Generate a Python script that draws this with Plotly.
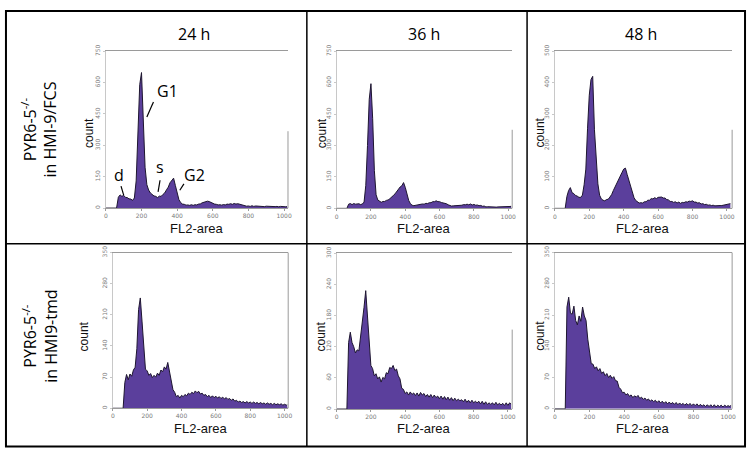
import plotly.graph_objects as go

# ---------------- data ----------------
channels = list(range(0, 1030, 10))  # FL2-area channel bins

fcs_24h = [0, 0, 0, 0, 0, 0, 0,
           52, 63, 56, 61, 51, 50, 44, 43, 37, 48,
           130, 385, 590, 648, 410, 195, 112, 86, 72,
           65, 58, 56, 50, 57, 56, 65, 72, 87, 100,
           121, 131, 143, 108, 68, 40, 26, 19, 18, 14,
           15, 13, 16, 13, 16, 15, 19, 20, 25, 27,
           32, 33, 31, 26, 23, 19, 18, 15, 16, 14,
           17, 15, 19, 18, 21, 18, 22, 19, 21, 18,
           17, 13, 11, 9, 10, 8, 11, 8, 10, 9,
           10, 8, 9, 7, 9, 8, 9, 6, 8, 7,
           8, 6, 8, 7, 8, 6, 8]

fcs_36h = [0, 0, 0, 0, 0, 0, 0,
           20, 23, 18, 23, 20, 21, 22, 18, 21, 30,
           110, 300, 520, 595, 430, 180, 65, 40, 33,
           29, 33, 33, 38, 40, 46, 52, 61, 69, 81,
           90, 102, 108, 123, 100, 65, 38, 22, 15, 13,
           15, 15, 18, 18, 21, 20, 24, 23, 27, 27,
           32, 32, 36, 32, 32, 28, 27, 23, 22, 17,
           14, 11, 12, 12, 15, 14, 15, 15, 18, 17,
           20, 17, 21, 16, 19, 15, 16, 13, 14, 10,
           11, 7, 8, 7, 7, 6, 7, 6, 7, 7,
           7, 6, 9, 8, 9, 9, 10]

fcs_48h = [0, 0, 0, 0, 0, 0, 0,
           38, 57, 66, 50, 47, 41, 39, 35, 35, 42,
           75, 125, 255, 360, 410, 420, 250, 140, 78,
           42, 30, 26, 24, 28, 29, 36, 44, 57, 69,
           83, 93, 105, 114, 125, 128, 108, 88, 67, 48,
           34, 25, 20, 17, 18, 17, 21, 21, 26, 26,
           31, 30, 34, 31, 35, 35, 36, 33, 33, 28,
           27, 22, 22, 19, 21, 17, 20, 16, 19, 18,
           21, 20, 23, 22, 24, 20, 20, 17, 18, 14,
           15, 12, 13, 10, 11, 9, 10, 8, 9, 8,
           9, 9, 10, 10, 11, 12, 15]

tmd_24h = [0, 0, 0, 0, 0, 0, 0,
           58, 76, 64, 77, 72, 86, 92, 134, 222, 248,
           196, 134, 88, 84, 74, 78, 69, 74, 70,
           79, 74, 86, 82, 93, 88, 103, 80, 66, 42,
           36, 26, 29, 23, 29, 26, 31, 28, 34, 31,
           36, 33, 39, 35, 38, 32, 34, 29, 31, 26,
           29, 24, 28, 24, 27, 23, 26, 22, 25, 21,
           24, 20, 22, 18, 21, 16, 18, 14, 16, 13,
           15, 12, 15, 12, 14, 11, 14, 11, 13, 10,
           13, 10, 12, 9, 12, 9, 11, 8, 11, 8,
           10, 8, 10, 7, 9, 7, 9]

tmd_36h = [0, 0, 0, 0, 0, 0, 0,
           128, 148, 128, 120, 108, 114, 112, 140, 156, 196,
           228, 176, 122, 84, 78, 64, 68, 58, 62,
           52, 61, 58, 70, 68, 80, 78, 84, 74, 77,
           64, 58, 40, 38, 30, 33, 27, 33, 28, 31,
           26, 31, 25, 32, 27, 30, 24, 28, 23, 28,
           22, 27, 22, 25, 20, 25, 19, 24, 18, 23,
           17, 22, 16, 21, 16, 19, 16, 18, 14, 19,
           13, 17, 12, 17, 12, 15, 12, 15, 10, 15,
           9, 14, 9, 12, 9, 12, 8, 13, 8, 11,
           8, 11, 7, 12, 7, 12, 9]

tmd_48h = [0, 0, 0, 0, 0, 0, 0,
           228, 250, 214, 212, 230, 198, 188, 208, 196, 228,
           208, 198, 156, 126, 101, 100, 90, 94, 85,
           90, 79, 83, 74, 79, 70, 75, 68, 72, 63,
           62, 48, 44, 36, 37, 31, 34, 28, 31, 25,
           29, 26, 30, 23, 26, 21, 24, 19, 22, 17,
           20, 16, 19, 14, 18, 13, 17, 12, 16, 11,
           15, 11, 14, 10, 14, 9, 13, 9, 12, 8,
           12, 8, 12, 7, 11, 7, 11, 6, 10, 6,
           9, 5, 9, 5, 9, 4, 9, 4, 8, 5,
           8, 4, 8, 5, 7, 5, 9]

time_labels = ["24 h", "36 h", "48 h"]
row_labels = ["PYR6-5<sup>-/-</sup><br>in HMI-9/FCS", "PYR6-5<sup>-/-</sup><br>in HMI9-tmd"]

x_ticks = [0, 200, 400, 600, 800, 1000]
y_ticks = [[0, 150, 300, 450, 600, 750], [0, 150, 300, 450, 600, 750], [0, 100, 200, 300, 400, 500],
           [0, 70, 140, 210, 280, 350], [0, 60, 120, 180, 240, 300], [0, 70, 140, 210, 280, 350]]
series = [fcs_24h, fcs_36h, fcs_48h, tmd_24h, tmd_36h, tmd_48h]

# peak labels on first panel: (text, text_x, text_y, line from, line to) in data units
peak_labels = [("d", 72, 160, (85, 105), (100, 62)),
               ("G1", 345, 560, (267, 507), (230, 436)),
               ("s", 302, 196, (304, 133), (293, 77)),
               ("G2", 495, 158, (438, 116), (415, 85))]

# ---------------- layout geometry (pixels) ----------------
W, H = 752, 452
panel_px = [  # x0, x1, y_top, y_bottom, x range max, right-edge fraction
    (104.7, 288.3, 45, 204.7, 1022, 0.49),
    (337.3, 514.3, 45, 205, 1023, 0.50),
    (557.3, 736.0, 45, 205, 1030, 0.50),
    (111.7, 288.5, 250, 408.5, 1021, 1.0),
    (337.3, 514.3, 250.7, 409.3, 1025, 0.51),
    (557.3, 736.0, 250, 409, 1023, 1.0),
]

fill_col = "#5b3f9c"
line_col = "#1e1630"
axis_col = "#9a9a9a"
tick_font = dict(family="DejaVu Sans", size=6, color="#7a7a7a")


def ann(text, px, py, size, family="Liberation Sans", angle=0, color="#111"):
    return dict(text=text, x=px / W, y=1 - py / H, xref="paper", yref="paper",
                xanchor="center", yanchor="middle", textangle=angle, showarrow=False,
                font=dict(family=family, size=size, color=color))


fig = go.Figure()
layout = dict(width=W, height=H, margin=dict(l=0, r=0, t=0, b=0), autosize=False,
              paper_bgcolor="white", plot_bgcolor="white", showlegend=False)
shapes = []
annotations = []

for i, (vals, p) in enumerate(zip(series, panel_px)):
    x0, x1, yt, yb, xmax, redge = p
    n = "" if i == 0 else str(i + 1)
    fig.add_trace(go.Scatter(x=channels, y=vals, mode="lines", fill="tozeroy",
                             fillcolor=fill_col, line=dict(color=line_col, width=1),
                             xaxis="x" + n, yaxis="y" + n, hoverinfo="skip"))
    layout["xaxis" + n] = dict(domain=[x0 / W, x1 / W], range=[0, xmax], anchor="y" + n,
                               tickvals=x_ticks, ticktext=[str(t) for t in x_ticks],
                               tickfont=tick_font, showgrid=False, zeroline=False,
                               showline=True, linecolor=axis_col, linewidth=1, mirror=True,
                               ticks="outside", ticklen=2, tickcolor=axis_col)
    yr = y_ticks[i]
    layout["yaxis" + n] = dict(domain=[1 - yb / H, 1 - yt / H], range=[0, yr[-1]], anchor="x" + n,
                               tickvals=yr, ticktext=[str(t) for t in yr], tickangle=-90,
                               tickfont=tick_font, showgrid=False, zeroline=False,
                               showline=True, linecolor="#c8c8c8", linewidth=1,
                               ticks="outside", ticklen=2, tickcolor="#c8c8c8")
    # hide mirrored right edge, then draw the partial right edge
    shapes.append(dict(type="line", xref="x" + n + " domain", yref="y" + n + " domain",
                       x0=1, x1=1, y0=0.004, y1=0.996, line=dict(color="white", width=2)))
    shapes.append(dict(type="line", xref="x" + n + " domain", yref="y" + n + " domain",
                       x0=1, x1=1, y0=0, y1=redge, line=dict(color=axis_col, width=1)))
    cx = (x0 + x1) / 2
    fy = 225 if i < 3 else 429
    annotations.append(ann("FL2-area", cx, fy, 13))
    cnt_x = [87, 322, 542, 83, 322, 542][i]
    cnt_y = 128 if i < 3 else 335
    annotations.append(ann("count", cnt_x, cnt_y, 12, angle=-90))

for t, cx in zip(time_labels, [194, 425, 644]):
    annotations.append(ann(t, cx, 27, 16, family="Open Sans", color="#000"))
for t, cy in zip(row_labels, [125, 335]):
    annotations.append(ann(t, 38, cy, 16, family="Open Sans", angle=-90, color="#000"))
for txt, tx, ty, a, b in peak_labels:
    annotations.append(dict(text=txt, x=tx, y=ty, xref="x", yref="y", showarrow=False,
                            xanchor="center", yanchor="middle",
                            font=dict(family="Open Sans", size=16, color="#000")))
    shapes.append(dict(type="line", xref="x", yref="y", x0=a[0], y0=a[1], x1=b[0], y1=b[1],
                       line=dict(color="#000", width=1.2)))

# grid borders
shapes.append(dict(type="rect", xref="paper", yref="paper", x0=4 / W, x1=749 / W,
                   y0=1 - 447.5 / H, y1=1 - 4 / H, line=dict(color="#000", width=2)))
for xs in [307.3, 529.3]:
    shapes.append(dict(type="line", xref="paper", yref="paper", x0=xs / W, x1=xs / W,
                       y0=1 - 447.5 / H, y1=1 - 4 / H, line=dict(color="#000", width=1.5)))
shapes.append(dict(type="line", xref="paper", yref="paper", x0=4 / W, x1=749 / W,
                   y0=1 - 241 / H, y1=1 - 241 / H, line=dict(color="#000", width=1.5)))

layout["shapes"] = shapes
layout["annotations"] = annotations
fig.update_layout(**layout)
fig.write_html("out.html", config={"displayModeBar": False},
               post_script="document.body.style.margin='0';document.body.style.overflow='hidden';")
